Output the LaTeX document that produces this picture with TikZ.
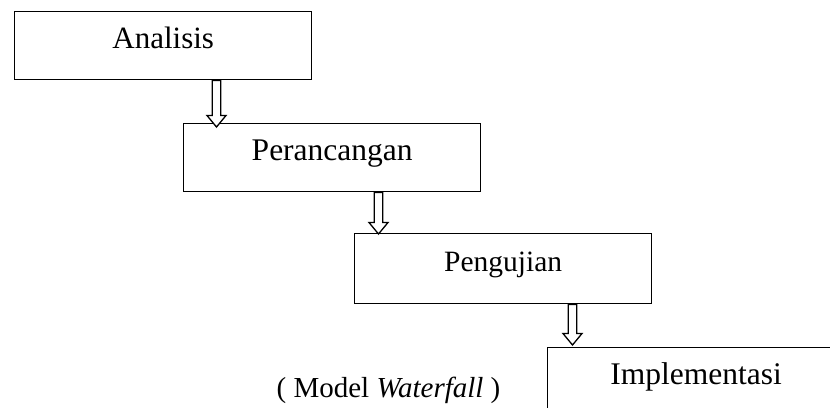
\documentclass[tikz,border=0pt]{standalone}
\usepackage{fontspec}
\setmainfont{Liberation Serif}
\usetikzlibrary{calc}
\tikzset{
  stage/.style={draw=black, line width=1.4pt, minimum width=297pt, minimum height=68pt,
    anchor=north west, inner sep=0pt, text height=0.7em, text depth=0.05em},
  flowarrow/.style={draw=black, fill=white, line width=1.3pt, line join=miter},
  caption/.style={anchor=base, inner sep=0pt}
}
\newcommand{\flowarrow}[4]{%
  \draw[flowarrow] let \p1=($(#2.north west)+(#3,0)$), \p2=(#1.south), \p3=($(#2.north)+(0,-#4)$) in
    (\x1-4.2pt,\y2) -- (\x1-4.2pt,\y3+11.5pt) -- (\x1-9.5pt,\y3+11.5pt) -- (\x1,\y3)
    -- (\x1+9.5pt,\y3+11.5pt) -- (\x1+4.2pt,\y3+11.5pt) -- (\x1+4.2pt,\y2) -- cycle;}
\begin{document}
\begin{tikzpicture}[x=1pt, y=-1pt]
  \useasboundingbox (0,0) rectangle (830,407);
  \clip (0,0) rectangle (830,407);
  \node[stage, font=\fontsize{31}{36}\selectfont] (ana) at (14,11) {Analisis};
  \node[stage, font=\fontsize{31.5}{36}\selectfont] (per) at (183,123) {Perancangan};
  \node[stage, minimum height=70pt, font=\fontsize{29.5}{36}\selectfont] (uji) at (354,233) {Pengujian};
  \node[stage, font=\fontsize{31.5}{36}\selectfont] (imp) at (547,347) {Implementasi};
  \node[caption, font=\fontsize{29}{34}\selectfont] (cap) at (388.5,397) {( Model \textit{Waterfall} )};
  \flowarrow{ana}{per}{33.5}{-4}
  \flowarrow{per}{uji}{24.5}{-1}
  \flowarrow{uji}{imp}{25.5}{2}
\end{tikzpicture}
\end{document}
